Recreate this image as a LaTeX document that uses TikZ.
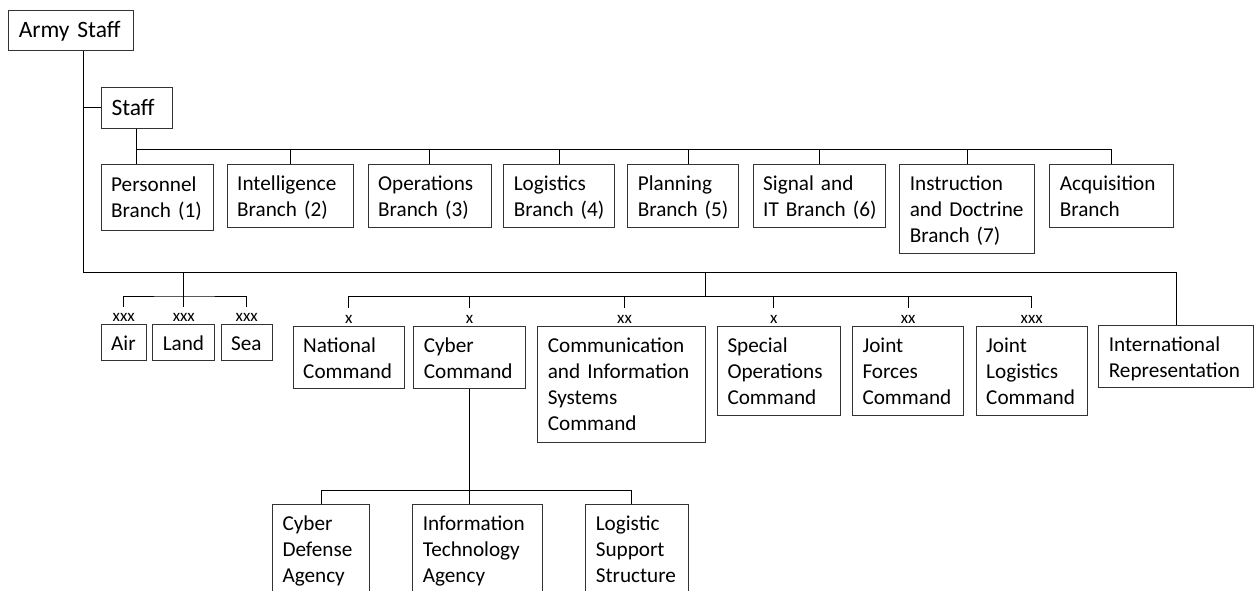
\documentclass[tikz,border=0pt]{standalone}
\usepackage{fontspec}
\setmainfont{Carlito}
\newcommand\mystr{\rule[-5.5pt]{0pt}{26pt}}
\newcommand\boxfont{\fontsize{21.2}{26}\selectfont}
\newcommand\bigfont{\fontsize{23.5}{28}\selectfont}
\newcommand\lblfont{\fontsize{17}{19}\selectfont}
\tikzset{
  box/.style={draw=black!80, line width=1pt, anchor=north west, inner xsep=10pt, inner ysep=0pt,
    align=left, font=\boxfont},
  topbox/.style={box, font=\bigfont},
  lbl/.style={anchor=south, inner sep=0pt, text height=15pt, text depth=2pt, font=\lblfont},
  conn/.style={line width=1pt, draw=black}
}
\begin{document}
\hyphenpenalty=10000
\exhyphenpenalty=10000
\begin{tikzpicture}[x=1pt,y=-1pt]
\clip (0,0) rectangle (1254,591);
% top level
\node[topbox, text width=104.4pt, minimum height=40pt] (army) at (8.3,10) {\mystr Army~Staff};
\node[topbox, text width=50.7pt, minimum height=41pt] (staff) at (101,86.7) {\mystr Staff};
% branches
\node[box, text width=92pt, minimum height=66pt] (pers) at (100.7,164) {\mystr Personnel\\\mystr Branch~(1)};
\node[box, text width=106.6pt, minimum height=62.7pt] (intel) at (226.7,164) {\mystr Intelligence\\\mystr Branch~(2)};
\node[box, text width=103pt, minimum height=62.7pt] (ops) at (367.7,164) {\mystr Operations\\\mystr Branch~(3)};
\node[box, text width=90.7pt, minimum height=62.7pt] (logi) at (503.3,164) {\mystr Logistics\\\mystr Branch~(4)};
\node[box, text width=91pt, minimum height=62.7pt] (plan) at (627.3,164) {\mystr Planning\\\mystr Branch~(5)};
\node[box, text width=112.3pt, minimum height=62.7pt] (sig) at (752.7,164) {\mystr Signal~and\\\mystr IT~Branch~(6)};
\node[box, text width=115pt, minimum height=89pt] (instr) at (899.3,164) {\mystr Instruction\\\mystr and~Doctrine\\\mystr Branch~(7)};
\node[box, text width=103.4pt, minimum height=62.7pt] (acq) at (1049.3,164) {\mystr Acquisition\\\mystr Branch};
% services
\node[box, text width=25pt, minimum height=36pt] (air) at (100.7,324) {\mystr Air};
\node[box, text width=42pt, minimum height=36pt] (land) at (152.3,324) {\mystr Land};
\node[box, text width=31pt, minimum height=36pt] (sea) at (220.7,324) {\mystr Sea};
% commands
\node[box, text width=91.3pt, minimum height=62.6pt] (nat) at (292.7,325.7) {\mystr National\\\mystr Command};
\node[box, text width=91.7pt, minimum height=62.6pt] (cyber) at (413.3,325.7) {\mystr Cyber\\\mystr Command};
\node[box, text width=148pt, minimum height=116pt] (comm) at (537.3,325.7) {\mystr Communication\\\mystr and~Information\\\mystr Systems\\\mystr Command};
\node[box, text width=103.3pt, minimum height=89.3pt] (spec) at (717,325.7) {\mystr Special\\\mystr Operations\\\mystr Command};
\node[box, text width=91.3pt, minimum height=89.3pt] (jf) at (852,325.7) {\mystr Joint\\\mystr Forces\\\mystr Command};
\node[box, text width=91pt, minimum height=89.3pt] (jl) at (975.7,325.7) {\mystr Joint\\\mystr Logistics\\\mystr Command};
\node[box, text width=135pt, minimum height=62.3pt] (intl) at (1098.3,325) {\mystr International\\\mystr Representation};
% cyber subunits
\node[box, text width=77pt, minimum height=89pt] (cdef) at (272,504) {\mystr Cyber\\\mystr Defense\\\mystr Agency};
\node[box, text width=110pt, minimum height=89pt] (itag) at (412.3,504) {\mystr Information\\\mystr Technology\\\mystr Agency};
\node[box, text width=83pt, minimum height=89pt] (lss) at (585.3,504) {\mystr Logistic\\\mystr Support\\\mystr Structure};
% echelon labels
\node[lbl] (lair) at (air.north) {xxx};
\node[lbl] (lland) at (land.north) {xxx};
\node[lbl] (lsea) at (sea.north) {xxx};
\node[lbl] (lnat) at (nat.north) {x};
\node[lbl] (lcyb) at (cyber.north) {x};
\node[lbl] (lcomm) at ([xshift=2.7pt]comm.north) {xx};
\node[lbl] (lspec) at ([xshift=-5.4pt]spec.north) {x};
\node[lbl] (ljf) at (jf.north) {xx};
\node[lbl] (ljl) at (jl.north) {xxx};
% helper coordinates
\coordinate (ax) at (83.3,0);
\coordinate (lowbus) at (0,272.3);
\coordinate (brbus) at (0,150);
\coordinate (alsj) at (183.7,296);
\coordinate (cmdj) at (705.3,296);
\coordinate (subbus) at (0,490);
\coordinate (pd) at ([xshift=5.5pt]plan.north);
\coordinate (ld) at ([xshift=-6pt]lss.north);
% connectors
\draw[conn] (army.south -| ax) -- (ax |- lowbus) -- (lowbus -| intl.north) -- (intl.north);
\draw[conn] (ax |- staff.west) -- (staff.west);
\draw[conn] (staff.south) -- (staff.south |- pers.north);
\draw[conn] (staff.south |- brbus) -- (acq.north |- brbus) -- (acq.north);
\foreach \n in {intel,ops,logi,sig,instr} \draw[conn] (\n.north |- brbus) -- (\n.north);
\draw[conn] (pd |- brbus) -- (pd);
\draw[conn] (alsj |- lowbus) -- (alsj);
\draw[conn] (lair.north) |- (alsj) -| (lsea.north);
\draw[conn] (lland.north |- alsj) -- (lland.north);
\draw[conn] (cmdj |- lowbus) -- (cmdj);
\draw[conn] (lnat.north |- cmdj) -- (ljl.north |- cmdj);
\foreach \n in {lnat,lcyb,lcomm,lspec,ljf,ljl} \draw[conn] (\n.north |- cmdj) -- (\n.north);
\draw[conn] (cyber.south) -- (cyber.south |- itag.north);
\draw[conn] (cdef.north) |- (ld |- subbus) -- (ld);
\end{tikzpicture}
\end{document}
